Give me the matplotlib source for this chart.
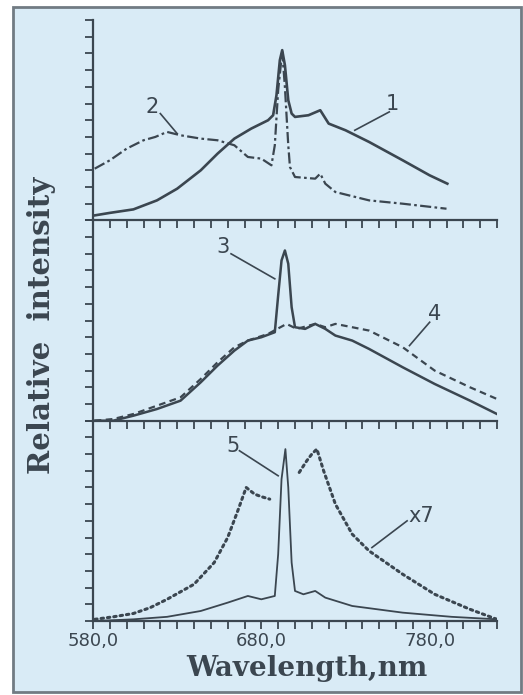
import matplotlib
matplotlib.use("Agg")
import matplotlib.pyplot as plt
from matplotlib.patches import Rectangle

# wavelength (nm) / relative intensity (tick units, 0..12)
wl1 = [581, 590, 604, 618, 630, 644, 654, 664, 674, 684, 687, 689, 691, 692.4, 694, 696, 698,
       700, 708, 715, 720, 730, 744, 764, 780, 790.5]
curve1 = [0.3, 0.45, 0.66, 1.2, 1.9, 3.0, 4.0, 4.9, 5.5, 6.0, 6.3, 7.5, 9.6, 10.2, 9.3, 7.2, 6.4,
          6.2, 6.3, 6.6, 5.8, 5.4, 4.7, 3.6, 2.7, 2.2]

wl2 = [581, 590, 600, 610, 617, 624, 632, 644, 654, 664, 672, 680, 686, 688, 690, 692.4, 694, 696,
       697, 700, 712, 715, 718, 724, 744, 764, 790]
curve2 = [3.1, 3.6, 4.3, 4.8, 5.0, 5.3, 5.1, 4.9, 4.8, 4.5, 3.8, 3.7, 3.3, 4.5, 7.8, 10.1, 8.0, 4.5,
          3.2, 2.6, 2.5, 2.8, 2.2, 1.7, 1.2, 1.0, 0.7]

wl3 = [581, 592, 604, 618, 632, 644, 654, 664, 672, 680, 688, 690, 692, 694, 696, 698, 700,
       706, 712, 718, 724, 734, 744, 764, 783, 804, 820]
curve3 = [0.0, 0.0, 0.3, 0.7, 1.2, 2.3, 3.3, 4.2, 4.8, 5.0, 5.3, 7.5, 9.6, 10.2, 9.4, 6.8, 5.6,
          5.5, 5.8, 5.5, 5.1, 4.8, 4.3, 3.2, 2.2, 1.2, 0.4]

wl4 = [581, 592, 604, 632, 644, 654, 664, 672, 684, 695, 701, 712, 718, 724, 734, 744, 764, 783,
       804, 820]
curve4 = [0.0, 0.1, 0.4, 1.4, 2.5, 3.5, 4.4, 4.8, 5.2, 5.8, 5.5, 5.8, 5.6, 5.8, 5.6, 5.4, 4.4,
          3.0, 2.0, 1.3]

wl5 = [581, 604, 624, 644, 660, 672, 680, 688, 690, 692, 694.3, 696, 698, 700, 705, 712, 718,
       734, 764, 793, 820]
curve5 = [0.0, 0.1, 0.25, 0.6, 1.1, 1.5, 1.3, 1.5, 4.0, 8.5, 10.3, 8.0, 3.5, 1.8, 1.6, 1.8, 1.4,
          0.9, 0.5, 0.25, 0.1]

# x7 magnified curve, two pieces (gap around the main line)
wl7a = [581, 592, 604, 614, 624, 640, 652, 660, 666, 671, 676, 680, 685]
x7a = [0.1, 0.25, 0.45, 0.8, 1.3, 2.2, 3.5, 5.0, 6.6, 8.0, 7.6, 7.45, 7.3]
wl7b = [702.5, 707, 710, 713, 717, 724, 734, 744, 764, 783, 804, 820]
x7b = [8.9, 9.6, 10.0, 10.3, 9.0, 7.0, 5.2, 4.2, 2.8, 1.6, 0.7, 0.1]

xticks = list(range(580, 821, 10))
xlabels = {580: "580,0", 680: "680,0", 780: "780,0"}

bg = "#d9ebf6"
ink = "#3b4650"

W, H = 523, 695
fig = plt.figure(figsize=(W / 100, H / 100), dpi=100)
fig.patch.set_facecolor("white")
fig.patches.append(Rectangle((13 / W, 3 / H), 508 / W, 685 / H, transform=fig.transFigure,
                             facecolor=bg, edgecolor="#717b83", lw=2, zorder=-10))

left, width = 93 / W, 404 / W
ph = 200.3 / H
bottoms = [(H - 621 + 2 * 200.3) / H, (H - 621 + 200.3) / H, (H - 621) / H]
axes = [fig.add_axes([left, b, width, ph]) for b in bottoms]

for i, ax in enumerate(axes):
    ax.set_facecolor("none")
    ax.set_xlim(580, 820)
    ax.set_ylim(0, 12)
    ax.spines["top"].set_visible(False)
    ax.spines["right"].set_visible(False)
    for s in ("left", "bottom"):
        ax.spines[s].set_color(ink)
        ax.spines[s].set_linewidth(1.6)
    ax.set_xticks(xticks)
    ax.set_yticks(range(0, 13))
    ax.set_yticklabels([])
    ax.tick_params(direction="out", length=6, width=1.3, color=ink)
    if i == 2:
        ax.set_xticklabels([xlabels.get(t, "") for t in xticks], fontsize=13, color=ink,
                           family="DejaVu Sans")
        ax.tick_params(axis="x", pad=2)
    else:
        ax.set_xticklabels([])

ax1, ax2, ax3 = axes
ax1.plot(wl1, curve1, color=ink, lw=1.9, solid_joinstyle="round")
ax1.plot(wl2, curve2, color=ink, lw=1.6, linestyle=(0, (5, 1.5, 1.2, 1.5)))
ax2.plot(wl3, curve3, color=ink, lw=1.8)
ax2.plot(wl4, curve4, color=ink, lw=1.6, linestyle=(0, (3, 2)))
ax3.plot(wl5, curve5, color=ink, lw=1.3)
ax3.plot(wl7a, x7a, color=ink, lw=2.2, linestyle=(0, (0.8, 1.3)), dash_capstyle="round")
ax3.plot(wl7b, x7b, color=ink, lw=2.2, linestyle=(0, (0.8, 1.3)), dash_capstyle="round")

# curve number labels with leader lines
def tag(ax, text, xy_text, p0, p1):
    ax.text(xy_text[0], xy_text[1], text, fontsize=15, color=ink, ha="center", va="center",
            family="DejaVu Sans")
    ax.plot([p0[0], p1[0]], [p0[1], p1[1]], color=ink, lw=1.2)

tag(ax1, "2", (615, 6.8), (620, 6.4), (630, 5.2))
tag(ax1, "1", (758, 7.0), (756, 6.5), (735.5, 5.4))
tag(ax2, "3", (657, 10.4), (662, 10.0), (688, 8.5))
tag(ax2, "4", (783, 6.4), (780, 5.9), (768, 4.5))
tag(ax3, "5", (663, 10.5), (667, 10.2), (690, 8.7))
tag(ax3, "x7", (775, 6.3), (766.6, 6.0), (745.7, 4.4))

fig.text(42 / W, 1 - 325 / H, "Relative  intensity", rotation=90, ha="center", va="center",
         fontsize=21, fontweight="bold", family="DejaVu Serif", color=ink)
fig.text(307 / W, 1 - 668 / H, "Wavelength,nm", ha="center", va="center",
         fontsize=20, fontweight="bold", family="DejaVu Serif", color=ink)

fig.savefig("out.png", dpi=100, facecolor="white")
